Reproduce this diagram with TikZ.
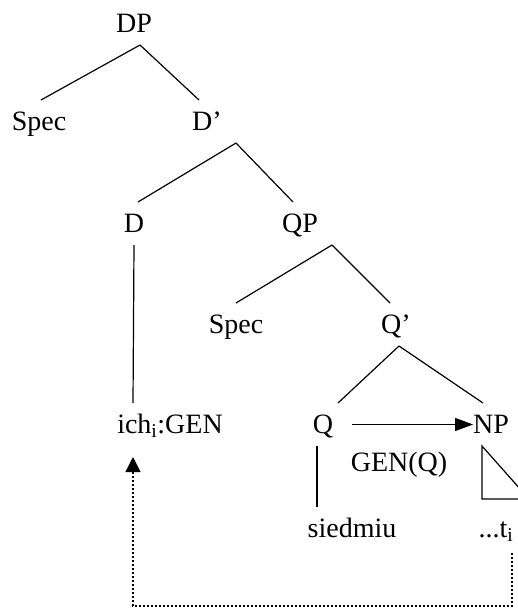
\documentclass[tikz,border=0pt]{standalone}
\usepackage{fontspec}
\setmainfont{Liberation Serif}
\usetikzlibrary{arrows.meta}

\begin{document}
\begin{tikzpicture}[x=1pt, y=1pt, line width=1.2pt,
  cat/.style={anchor=base, inner sep=0pt, outer xsep=0pt, outer ysep=11pt,
    text height=19pt, text depth=2pt, font=\fontsize{28}{34}\selectfont},
  trace/.style={dash pattern=on 2pt off 2pt, line width=1.3pt}]
\clip (0,0) rectangle (518,-608);

\node[cat] (DP) at (134,-32) {DP};

\node[cat] (spec1) at (39,-130) {Spec};
\node[cat] (Dbar) at (207,-130) {D’};
\draw ([xshift=6pt]DP.south) -- ([xshift=2pt]spec1.north);
\draw ([xshift=6pt]DP.south) -- ([xshift=-8pt]Dbar.north);

\node[cat] (D) at (134,-232) {D};
\node[cat] (QP) at (300,-232) {QP};
\draw ([xshift=29pt]Dbar.south) -- ([xshift=4pt]D.north);
\draw ([xshift=29pt]Dbar.south) -- ([xshift=-7pt]QP.north);

\node[cat] (spec2) at (236,-333) {Spec};
\node[cat] (Qbar) at (396,-333) {Q’};
\draw ([xshift=32pt]QP.south) -- (spec2.north);
\draw ([xshift=32pt]QP.south) -- ([xshift=-6pt]Qbar.north);

\node[cat] (ich) at (170,-433) {ich\textsubscript{i}:GEN};
\node[cat] (Q) at (323,-433) {Q};
\node[cat] (NP) at (491,-433) {NP};
\draw ([xshift=3pt]Qbar.south) -- ([xshift=15pt]Q.north);
\draw ([xshift=3pt]Qbar.south) -- ([xshift=-8pt]NP.north);
\draw (D.south) -- ([xshift=-37pt]ich.north);

% case assignment
\draw[-{Triangle[length=18pt,width=13pt]}] ([xshift=19pt]Q.east) -- (NP.west);
\node[cat] (genq) at (399,-471) {GEN(Q)};

\node[cat] (siedmiu) at (352,-537) {siedmiu};
\node[cat] (t) at (496,-537) {...t\textsubscript{i}};
\draw ([xshift=-6pt]Q.south) -- ([xshift=-35pt]siedmiu.north);
\draw ([xshift=-9pt]NP.south) -- ++(0,-53) -- ++(47,0) -- cycle;

% movement
\draw[trace, -{Triangle[length=15pt,width=15pt]}] ([xshift=16pt,yshift=-3pt]t.south)
  -- ++(0,-53) -| ([xshift=-37pt,yshift=-11pt]ich.south);
\end{tikzpicture}
\end{document}
